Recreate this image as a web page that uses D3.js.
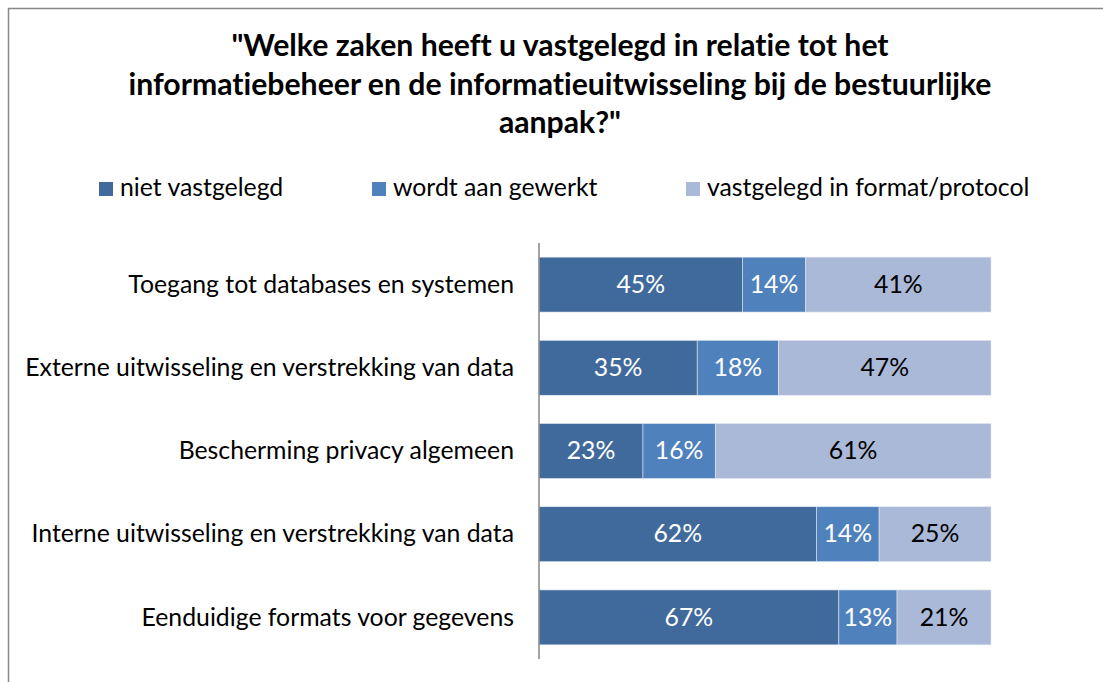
<!DOCTYPE html>
<html>
<head>
<meta charset="utf-8">
<script src="https://cdn.jsdelivr.net/npm/d3@7"></script>
<style>
  body { margin: 0; background: #fff; }
  text { font-family: Lato, "Open Sans", sans-serif; font-variant-ligatures: none; font-feature-settings: "liga" 0; }
</style>
</head>
<body>
<div id="chart"></div>
<script>
// Chart size
const WIDTH = 1103;
const HEIGHT = 682;
const FONT_SIZE = "24.8px";
const TITLE_SIZE = "30.2px";

// Data
const titleLines = [
  "\"Welke zaken heeft u vastgelegd in relatie tot het",
  "informatiebeheer en de informatieuitwisseling bij de bestuurlijke",
  "aanpak?\""
];
const categories = [
  "Toegang tot databases en systemen",
  "Externe uitwisseling en verstrekking van data",
  "Bescherming privacy algemeen",
  "Interne uitwisseling en verstrekking van data",
  "Eenduidige formats voor gegevens"
];
const seriesNames = ["niet vastgelegd", "wordt aan gewerkt", "vastgelegd in format/protocol"];
const nietVastgelegd = [45, 35, 23, 62, 67];
const aanGewerkt = [14, 18, 16, 14, 13];
const vastgelegd = [41, 47, 61, 25, 21];

const COLOURS = ["#416a9c", "#4f81bd", "#aab9d7"];
const LABEL_COLOURS = ["#fff", "#fff", "#000"];

// Build rows, normalised to 100% (some rows add to 101)
let rows = categories.map((c, i) => {
  let vals = [nietVastgelegd[i], aanGewerkt[i], vastgelegd[i]];
  let total = d3.sum(vals);
  let x0 = 0;
  let segs = vals.map((v, k) => {
    let s = {cat: c, k: k, value: v, x0: x0 / total, x1: (x0 + v) / total};
    x0 += v;
    return s;
  });
  return {cat: c, segs: segs};
});

let svg = d3.select("#chart")
            .append("svg")
            .attr("width", WIDTH)
            .attr("height", HEIGHT);

// Outer border of the chart area
svg.append("rect")
    .attr("x", 8.5)
    .attr("y", 8.5)
    .attr("width", WIDTH + 20)
    .attr("height", HEIGHT + 20)
    .attr("fill", "none")
    .attr("stroke", "#888")
    .attr("stroke-width", 1.5);

// Title
svg.append("g")
    .selectAll("text")
    .data(titleLines)
    .join("text")
    .attr("x", 560)
    .attr("y", (d, i) => 56 + i * 38.5)
    .attr("text-anchor", "middle")
    .attr("font-size", TITLE_SIZE)
    .attr("font-weight", "bold")
    .attr("fill", "#000")
    .text(d => d);

// Legend
const legendX = [99, 372, 686];
let legend = svg.append("g")
                .selectAll("g")
                .data(seriesNames)
                .join("g")
                .attr("transform", (d, i) => `translate(${legendX[i]}, 182)`);

legend.append("rect")
    .attr("width", 14)
    .attr("height", 14)
    .attr("fill", (d, i) => COLOURS[i]);

legend.append("text")
    .attr("x", 21)
    .attr("y", 14)
    .attr("font-size", FONT_SIZE)
    .attr("fill", "#000")
    .text(d => d);

// Scales
let x = d3.scaleLinear()
          .domain([0, 1])
          .range([539, 991]);

let y = d3.scaleBand()
          .domain(categories)
          .range([243, 659])
          .paddingInner(0.34)
          .paddingOuter(0.17);

// Category labels
svg.append("g")
    .selectAll("text")
    .data(categories)
    .join("text")
    .attr("x", 514)
    .attr("y", d => y(d) + y.bandwidth() / 2)
    .attr("dy", "0.33em")
    .attr("text-anchor", "end")
    .attr("font-size", FONT_SIZE)
    .attr("fill", "#000")
    .text(d => d);

// Bars
let rowG = svg.append("g")
              .selectAll("g")
              .data(rows)
              .join("g");

rowG.selectAll("rect")
    .data(d => d.segs)
    .join("rect")
    .attr("x", d => x(d.x0))
    .attr("y", d => y(d.cat))
    .attr("width", d => x(d.x1) - x(d.x0))
    .attr("height", y.bandwidth())
    .attr("fill", d => COLOURS[d.k])
    .attr("stroke", "#dfe6f1")
    .attr("stroke-width", 0.6);

rowG.selectAll("text")
    .data(d => d.segs)
    .join("text")
    .attr("x", d => (x(d.x0) + x(d.x1)) / 2)
    .attr("y", d => y(d.cat) + y.bandwidth() / 2)
    .attr("dy", "0.33em")
    .attr("text-anchor", "middle")
    .attr("font-size", FONT_SIZE)
    .attr("fill", d => LABEL_COLOURS[d.k])
    .text(d => d.value + "%");

// Vertical axis line
svg.append("line")
    .attr("x1", 539)
    .attr("x2", 539)
    .attr("y1", 243)
    .attr("y2", 659)
    .attr("stroke", "#868686")
    .attr("stroke-width", 1.5);
</script>
</body>
</html>
